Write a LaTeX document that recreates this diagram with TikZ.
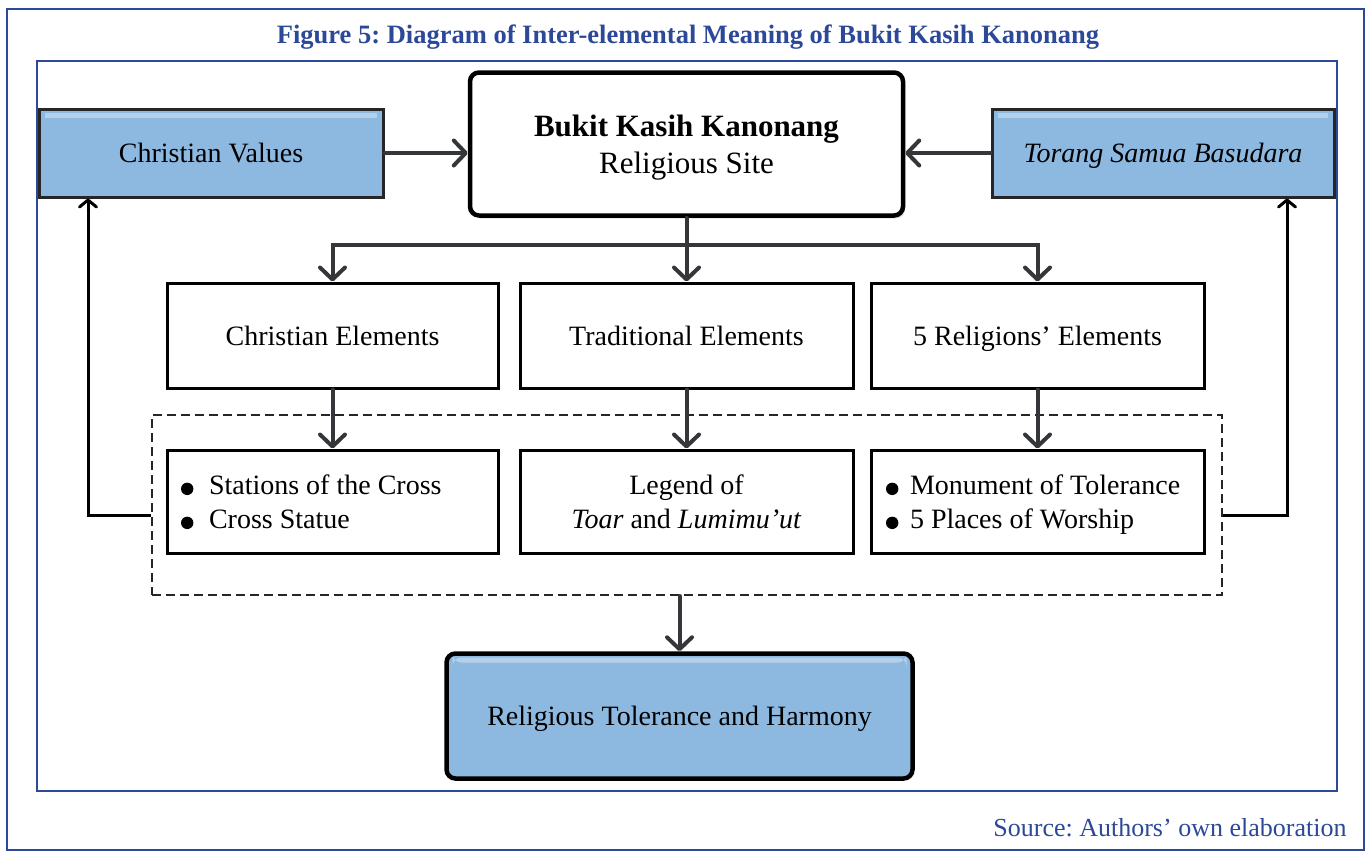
\documentclass[tikz,border=0pt]{standalone}
\usepackage{fontspec}
\setmainfont{Liberation Serif}
\usetikzlibrary{arrows.meta,shadows}
\definecolor{frameblue}{RGB}{44,72,152}
\definecolor{boxblue}{RGB}{141,185,224}
\definecolor{arrowgray}{RGB}{52,54,58}
\newcommand\bul[1][28pt]{\makebox[#1][l]{\smash{\tikz[baseline=0pt]\fill[black] (6.5pt,5.5pt) circle[radius=6.2pt];}}}
\newcommand\li[2][28pt]{\makebox[303pt][l]{\bul[#1]#2}}
\frenchspacing
\begin{document}
\frenchspacing
\begin{tikzpicture}[x=1pt,y=-1pt,
  frame/.style={draw=frameblue,line width=2pt},
  gloss/.style={path picture={
      \fill[white,opacity=0.35] ([xshift=6pt,yshift=-4pt]path picture bounding box.north west)
        rectangle ([xshift=-6pt,yshift=-9pt]path picture bounding box.north east);}},
  bluebox/.style={draw=black!85,line width=3pt,fill=boxblue,inner sep=0pt,text depth=0pt,
      font=\fontsize{28}{34}\selectfont,gloss},
  mainbox/.style={draw=black,line width=4.5pt,fill=white,rounded corners=9pt,inner sep=0pt,
      align=center,text depth=0pt,font=\fontsize{31}{37}\selectfont,
      drop shadow={shadow xshift=2pt,shadow yshift=-3pt,opacity=0.25}},
  harmbox/.style={draw=black,line width=4.5pt,fill=boxblue,rounded corners=9pt,inner sep=0pt,
      text depth=0pt,font=\fontsize{28}{34}\selectfont,gloss},
  plainbox/.style={draw=black,line width=3pt,fill=white,inner sep=0pt,text depth=0pt,
      font=\fontsize{28}{34}\selectfont},
  listbox/.style={plainbox,align=left},
  dashbox/.style={draw=black!85,line width=2pt,dash pattern=on 9pt off 5pt,inner sep=0pt},
  arr/.style={draw=arrowgray,line width=4pt,line cap=round,
      -{Straight Barb[length=12pt,width=25pt,round]}},
  fb/.style={draw=black,line width=3pt,-{Straight Barb[length=7pt,width=17pt,round]}}
]
\useasboundingbox (0,0) rectangle (1370,852);
% frames
\draw[frame] (7,9) rectangle (1364,850);
\draw[frame] (37,61) rectangle (1337,791);
\node[text=frameblue,font=\fontsize{26.5}{30}\selectfont\bfseries] (title) at (688,37)
  {Figure 5: Diagram of Inter-elemental Meaning of Bukit Kasih Kanonang};
\node[text=frameblue,font=\fontsize{26}{30}\selectfont,anchor=east] (src) at (1350,828)
  {Source: Authors’ own elaboration};

% top row
\node[bluebox,minimum width=344pt,minimum height=88pt] (cv) at (211,153) {Christian Values};
\node[bluebox,minimum width=342pt,minimum height=88pt] (ts) at (1163,153) {\textit{Torang Samua Basudara}};
\node[mainbox,minimum width=433pt,minimum height=143pt] (main) at (686.5,144)
  {\textbf{Bukit Kasih Kanonang}\\Religious Site};

% middle row
\node[plainbox,minimum width=331pt,minimum height=105pt] (ce) at (332.5,335.5) {Christian Elements};
\node[plainbox,minimum width=333pt,minimum height=105pt] (te) at (686.5,335.5) {Traditional Elements};
\node[plainbox,minimum width=333pt,minimum height=105pt] (re) at (1037.5,335.5) {5 Religions’ Elements};

% dashed group
\node[dashbox,minimum width=1070pt,minimum height=180pt] (dbox) at (687,505) {};

% bottom row
\node[listbox,minimum width=331pt,minimum height=103pt] (b1) at (332.5,501.5)
  {\li{Stations of the Cross}\\\li{Cross Statue}};
\node[plainbox,align=center,minimum width=333pt,minimum height=103pt] (b2) at (686.5,501.5)
  {Legend of\\\textit{Toar} and \textit{Lumimu’ut}};
\node[listbox,minimum width=333pt,minimum height=103pt] (b3) at (1037.5,501.5)
  {\li[24pt]{Monument of Tolerance}\\\li[24pt]{5 Places of Worship}};

% result
\node[harmbox,minimum width=466pt,minimum height=125pt] (harm) at (679.5,716)
  {Religious Tolerance and Harmony};

% connectors
\draw[arr] (cv.east) -- (cv.east -| main.west);
\draw[arr] (ts.west) -- (ts.west -| main.east);
\coordinate (jn) at (686.5,245);
\draw[arr] (main.south) -- (te.north);
\draw[arr] (jn) -| (ce.north);
\draw[arr] (jn) -| (re.north);
\draw[arr] (ce.south) -- (b1.north);
\draw[arr] (te.south) -- (b2.north);
\draw[arr] (re.south) -- (b3.north);
\draw[arr] (dbox.south -| harm.north) -- (harm.north);
\coordinate (fbl) at (88,515);
\coordinate (fbr) at (1287,515);
\draw[fb] (dbox.west |- fbl) -- (fbl) -- (fbl |- cv.south);
\draw[fb] (dbox.east |- fbr) -- (fbr) -- (fbr |- ts.south);
\end{tikzpicture}
\end{document}
